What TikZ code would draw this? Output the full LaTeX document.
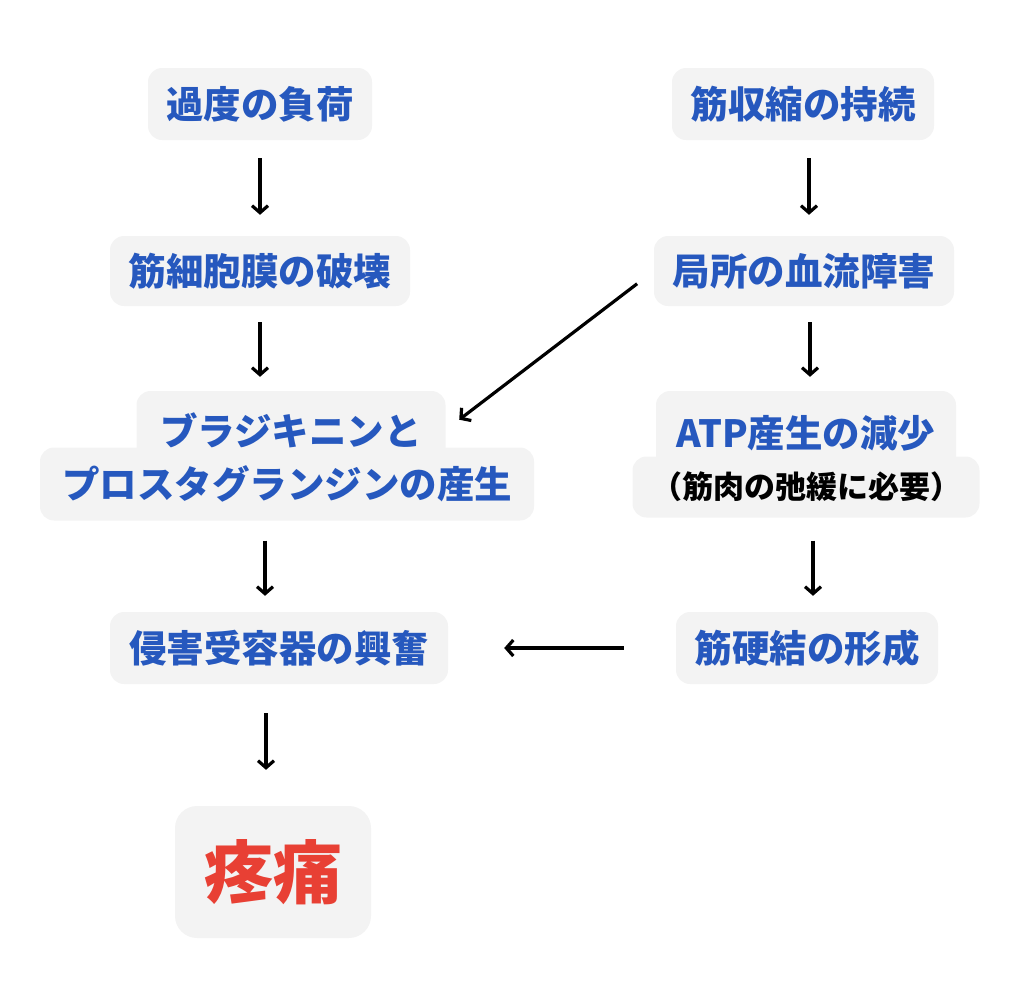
\documentclass[tikz,border=0pt]{standalone}
\usepackage{fontspec}
\newfontfamily\cjk{Noto Sans CJK JP}
\usetikzlibrary{arrows.meta}
\begin{document}
\begin{tikzpicture}[x=1pt, y=-1pt,
  box/.style={fill=boxgray, rounded corners=14pt, inner sep=0pt, text=nodeblue,
    font=\cjk\bfseries\fontsize{37.5}{37.5}\selectfont, minimum height=72pt},
  arr/.style={line width=3.2pt, -{Straight Barb[length=7pt,width=16pt]}}]
  \definecolor{boxgray}{RGB}{243,243,243}
  \definecolor{nodeblue}{RGB}{38,88,190}
  \definecolor{painred}{RGB}{232,64,52}
  \useasboundingbox (0,0) rectangle (1024,997);

  \node [box, minimum width=224pt] (overload) at (260, 104) {過度の負荷};
  \node [box, minimum width=262pt] (contract) at (803, 104) {筋収縮の持続};
  \node [box, minimum width=300pt, minimum height=70pt] (membrane) at (260, 271) {筋細胞膜の破壊};
  \node [box, minimum width=300pt, minimum height=70pt] (ischemia) at (804, 271) {局所の血流障害};
  \node [box, minimum width=309pt, minimum height=78pt] (kininA) at (291, 430) {ブラジキニンと};
  \node [box, minimum width=494pt, minimum height=73pt] (kininB) at (287, 484) {プロスタグランジンの産生};
  \node [box, minimum width=300pt, minimum height=84pt] (atpA) at (806, 433) {ATP産生の減少};
  \node [box, minimum width=347pt, minimum height=61pt, text=black,
    font=\cjk\bfseries\fontsize{31}{31}\selectfont] (atpB) at (806, 487) {（筋肉の弛緩に必要）};
  \node [box, minimum width=338pt] (nocic) at (279, 648) {侵害受容器の興奮};
  \node [box, minimum width=262pt] (harden) at (807, 648) {筋硬結の形成};
  \node [box, minimum width=196pt, minimum height=132pt, rounded corners=22pt, text=painred,
    font=\cjk\bfseries\fontsize{69}{69}\selectfont] (pain) at (273, 872) {疼痛};

  \draw [arr, shorten <=18pt, shorten >=21pt] (overload.south) -- (membrane.north);
  \draw [arr, shorten <=16pt, shorten >=14pt] (membrane.south) -- (membrane.south |- kininA.north);
  \draw [arr, shorten <=20pt, shorten >=16pt] ([xshift=-14pt]nocic.north |- kininB.south) -- ([xshift=-14pt]nocic.north);
  \draw [arr, shorten <=29pt, shorten >=36pt] ([xshift=-7pt]pain.north |- nocic.south) -- ([xshift=-7pt]pain.north);
  \draw [arr, shorten <=18pt, shorten >=21pt] ([xshift=6pt]contract.south) -- ([xshift=6pt]contract.south |- ischemia.north);
  \draw [arr, shorten <=16pt, shorten >=14pt] ([xshift=6pt]ischemia.south) -- ([xshift=6pt]ischemia.south |- atpA.north);
  \draw [arr, shorten <=23pt, shorten >=16pt] ([xshift=6pt]harden.north |- atpB.south) -- ([xshift=6pt]harden.north);
  \draw [arr, shorten <=52pt, shorten >=56pt] (harden.west) -- (nocic.east);
  \draw [arr, shorten <=21pt, shorten >=17pt] (ischemia.west) -- (kininA.east);
\end{tikzpicture}
\end{document}
